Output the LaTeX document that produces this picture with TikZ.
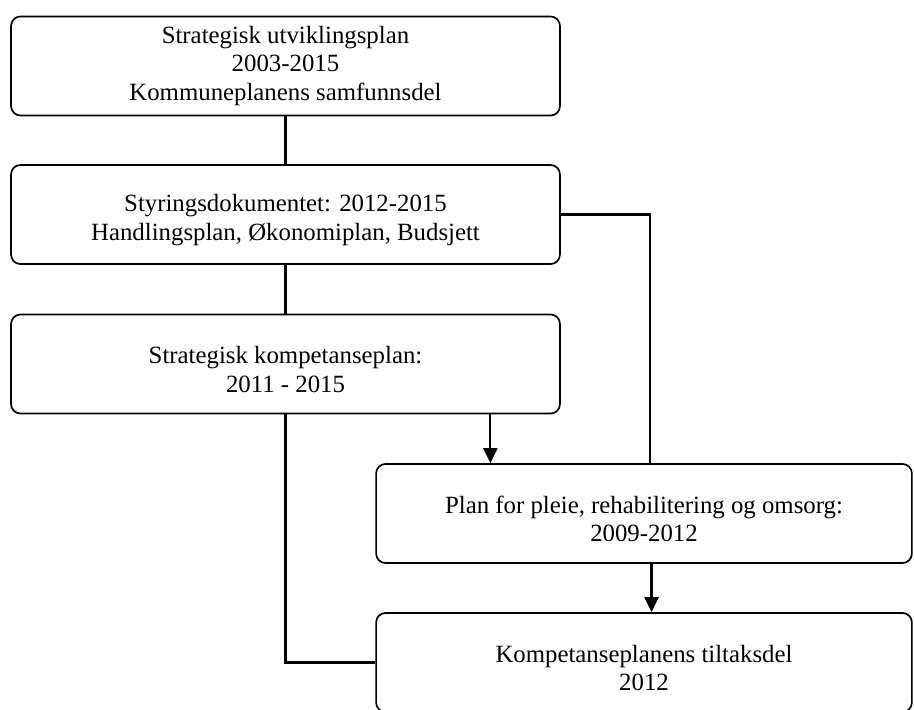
\documentclass[tikz,border=0pt]{standalone}
\usepackage{fontspec}
\setmainfont{Liberation Serif}
\usepackage{tikz}
\usetikzlibrary{positioning,arrows.meta,calc}

\begin{document}
\begin{tikzpicture}[x=0.532pt,y=-0.532pt,
    planbox/.style={rectangle, rounded corners=5pt, draw, line width=0.9pt, align=center,
      font=\fontsize{13.2}{15}\selectfont, minimum height=52.7pt, inner sep=0pt},
    link/.style={line width=1.1pt},
    arrow/.style={link, -{Triangle[width=7.5pt,length=8pt]}}]
        \useasboundingbox (0,0) rectangle (914,709);
        \clip (0,0) rectangle (914,709);

        % Overall plans (left column)
        \node[planbox, minimum width=292pt] (P1) at (285.5,66) {Strategisk utviklingsplan\\2003-2015\\Kommuneplanens samfunnsdel};
        \node[planbox, minimum width=292pt] (P2) at (285.5,214.5) {\mbox{}\\Styringsdokumentet: 2012-2015\\Handlingsplan, Økonomiplan, Budsjett};
        \node[planbox, minimum width=292pt] (P3) at (285.5,364) {\mbox{}\\Strategisk kompetanseplan:\\2011 - 2015};

        % Sector plans (right column)
        \node[planbox, minimum width=285pt] (P4) at (644,513.5) {\mbox{}\\Plan for pleie, rehabilitering og omsorg:\\2009-2012};
        \node[planbox, minimum width=285pt] (P5) at (644,662.5) {\mbox{}\\Kompetanseplanens tiltaksdel\\2012};

        % Connections
        \draw[link] (P1.south) -- (P2.north);
        \draw[link] (P2.south) -- (P3.north);
        \draw[link] (P2.east) -| ([xshift=3pt]P4.north);
        \draw[arrow] ([xshift=109pt]P3.south) -- ([xshift=109pt]P3.south |- P4.north);
        \draw[arrow] ([xshift=4pt]P4.south) -- ([xshift=4pt]P5.north);
        \draw[link] (P3.south) |- (P5.west);
    \end{tikzpicture}
\end{document}
